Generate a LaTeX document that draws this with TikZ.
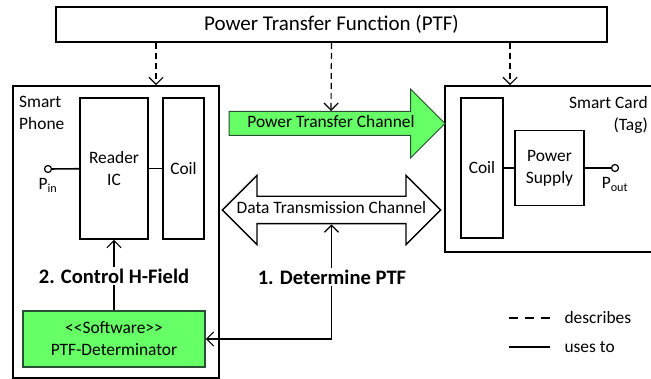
\documentclass[tikz,border=0pt]{standalone}
\usepackage{fontspec}
\setmainfont{Carlito}
\usetikzlibrary{arrows.meta, shapes.arrows, positioning}

\definecolor{ptfgreen}{RGB}{102,255,102}
\definecolor{detborder}{RGB}{40,80,50}

\tikzset{
  box/.style={draw, line width=1.6pt, inner sep=0pt, align=center},
  desc/.style={->, dashed, dash pattern=on 6pt off 4pt, line width=1.2pt},
  uses/.style={line width=1.2pt},
  port/.style={circle, draw, line width=1.2pt, minimum size=7pt, inner sep=0pt},
  channel/.style={inner xsep=0pt, text height=12pt, text depth=4pt},
  steplabel/.style={fill=white, inner sep=2pt, font=\fontsize{20.6}{24}\selectfont\bfseries}
}

\begin{document}
\begin{tikzpicture}[x=1pt, y=-1pt, >={Straight Barb[angle=90:10pt]},
  font=\fontsize{17.4}{22}\selectfont]

\useasboundingbox (0,0) rectangle (651,379);

\node[box, minimum width=551pt, minimum height=35pt, font=\fontsize{21}{24}\selectfont]
  (ptf) at (331.5,24.5) {Power Transfer Function (PTF)};

% smart phone
\node[box, minimum width=206pt, minimum height=292pt] (phone) at (116,232) {};
\node[anchor=north west, align=left, inner sep=2pt] (phonelbl) at (17,94) {Smart\\Phone};

\node[box, minimum width=68pt, minimum height=141pt] (reader) at (114,168.5) {Reader\\IC};
\node[box, minimum width=41pt, minimum height=141pt] (coila) at (183.5,168.5) {Coil};
\node[port] (pin) at (48,169) {};
\node[below=4pt of pin, inner sep=1pt] (pinlbl) {P\textsubscript{in}};

\draw[line width=1.6pt] (pin) -- (reader);
\draw[line width=1.6pt] (reader) -- (coila);

\node[box, fill=ptfgreen, draw=detborder, minimum width=182pt, minimum height=56pt]
  (det) at (114,339) {<{}<Software>{}>\\PTF-Determinator};

% smart card
\node[box, minimum width=220pt, minimum height=166pt] (card) at (555,169) {};
\node[anchor=north east, align=right, inner sep=2pt] (cardlbl) at (650,94) {Smart Card\\(Tag)};

\node[box, minimum width=42pt, minimum height=140pt] (coilb) at (482,168) {Coil};
\node[box, minimum width=69pt, minimum height=75pt] (supply) at (549.5,168) {Power\\Supply};
\node[port] (pout) at (615,168) {};
\node[below=4pt of pout, inner sep=1pt] (poutlbl) {P\textsubscript{out}};

\draw[line width=1.6pt] (coilb) -- (supply);
\draw[line width=1.6pt] (supply) -- (pout);

% channels
\node[single arrow, channel, draw=detborder, fill=ptfgreen, line width=1pt, inner ysep=3.5pt,
  minimum height=216pt, single arrow head extend=22.5pt]
  (ptc) at (331,123.5) {Power Transfer Channel};
\node[double arrow, channel, draw, line width=1.4pt, inner ysep=5pt,
  minimum height=215pt, double arrow head extend=21pt]
  (dtc) at (331.5,210) {Data Transmission Channel};

% describes
\draw[desc] ([xshift=40pt]phone.north |- ptf.south) -- ([xshift=40pt]phone.north);
\draw[desc] (ptf.south) -- (ptc.north);
\draw[desc] ([xshift=-45pt]card.north |- ptf.south) -- ([xshift=-45pt]card.north);

% uses to
\draw[uses, ->] (det.north) -- (reader.south);
\draw[uses, <->] (det.east) -| (dtc.south);

\node[steplabel] (lblctrl) at (114,276) {2. Control H-Field};
\node[steplabel] (lbldet) at (332,277) {1. Determine PTF};

% legend
\node[anchor=west] (lgdesc) at (561,318) {describes};
\node[anchor=west] (lguse) at (561,347) {uses to};
\draw[dashed, dash pattern=on 9pt off 7pt, line width=1.4pt]
  ([xshift=-52pt]lgdesc.west) -- ([xshift=-11pt]lgdesc.west);
\draw[uses] ([xshift=-52pt]lguse.west) -- ([xshift=-11pt]lguse.west);

\end{tikzpicture}
\end{document}
